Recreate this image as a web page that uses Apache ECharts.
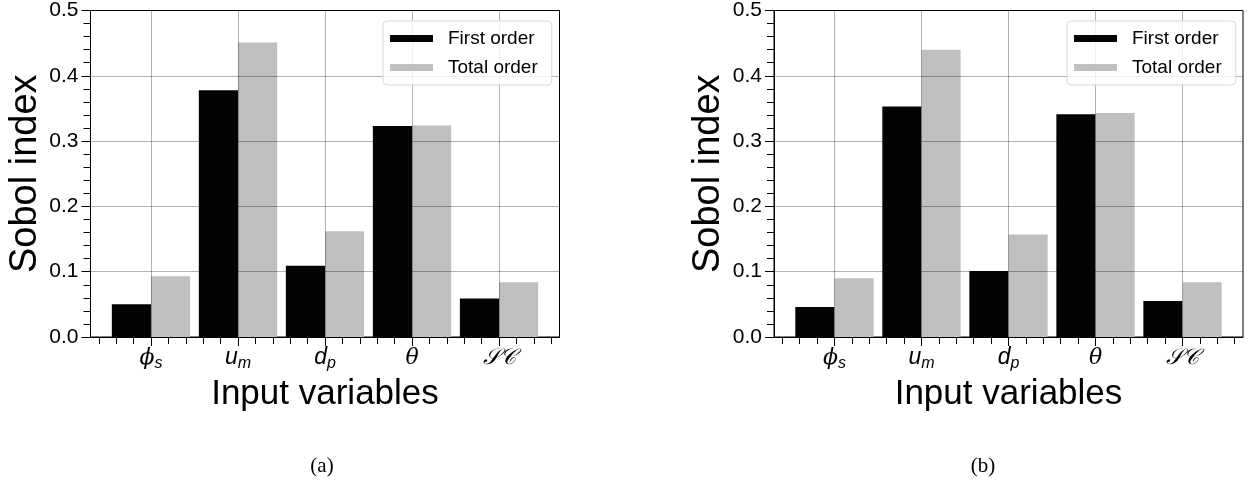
<!DOCTYPE html>
<html>
<head>
<meta charset="utf-8">
<script src="https://cdn.jsdelivr.net/npm/echarts@6/dist/echarts.min.js"></script>
<style>
  html, body { margin: 0; padding: 0; background: #ffffff; }
  #chart { width: 1249px; height: 482px; }
</style>
</head>
<body>
<div id="chart"></div>
<script>
// Input variables (x positions 0..4) and their axis labels (rich text)
const categories = ['phi_s', 'u_m', 'd_p', 'theta', 'SC'];
const categoryLabels = ['{g|ϕ}{s|s}', '{l|u}{s|m}', '{l|d}{s|p}', '{g|θ}', '{c|𝒮𝒞}'];

// Sobol indices, panel (a)
const firstOrderA = [0.050, 0.378, 0.109, 0.323, 0.059];
const totalOrderA = [0.093, 0.451, 0.162, 0.324, 0.084];
// Sobol indices, panel (b)
const firstOrderB = [0.046, 0.353, 0.101, 0.341, 0.055];
const totalOrderB = [0.090, 0.440, 0.157, 0.343, 0.084];

// Tick positions on the x axis
const majorXTicks = [0, 1, 2, 3, 4];
const minorXTicks = [-0.6, -0.4, -0.2, 0.2, 0.4, 0.6, 0.8, 1.2, 1.4, 1.6, 1.8,
                     2.2, 2.4, 2.6, 2.8, 3.2, 3.4, 3.6, 3.8, 4.2, 4.4, 4.6];
const panelLabels = ['(a)', '(b)'];
const seriesNames = ['First order', 'Total order'];

const BAR_W = 0.45;
const X_MIN = -0.695, X_MAX = 4.695;
const SANS = 'Liberation Sans, Arial, sans-serif';
const GRID_COLOR = 'rgba(0,0,0,0.3)';

const chart = echarts.init(document.getElementById('chart'), null, { renderer: 'canvas' });

function barRenderer(shift) {
  return function (params, api) {
    const c = api.value(0);
    const v = api.value(1);
    const tl = api.coord([c + shift - BAR_W / 2, v]);
    const br = api.coord([c + shift + BAR_W / 2, 0]);
    return {
      type: 'rect',
      shape: { x: tl[0], y: tl[1], width: br[0] - tl[0], height: br[1] - tl[1] },
      style: api.style()
    };
  };
}

const rich = {
  g: { fontFamily: 'DejaVu Serif, serif', fontStyle: 'italic', fontSize: 22, lineHeight: 28, color: '#000' },
  l: { fontFamily: SANS, fontStyle: 'italic', fontSize: 23, lineHeight: 28, color: '#000' },
  s: { fontFamily: SANS, fontStyle: 'italic', fontSize: 16, lineHeight: 14, verticalAlign: 'bottom', color: '#000' },
  c: { fontFamily: 'DejaVu Sans, serif', fontStyle: 'italic', fontSize: 22, lineHeight: 28, color: '#000' }
};

const grids = [
  { left: 90.5, top: 10, width: 469, height: 327 },
  { left: 774, top: 10, width: 469, height: 327 }
];

const xAxes = [];
const yAxes = [];
const series = [];
const legends = [];
const titles = [];
const panels = [
  { first: firstOrderA, total: totalOrderA, legendLeft: 383, labelX: 317 },
  { first: firstOrderB, total: totalOrderB, legendLeft: 1067, labelX: 978 }
];

panels.forEach(function (p, g) {
  // major ticks, labels and vertical grid lines
  xAxes.push({
    type: 'value', gridIndex: g, position: 'bottom', min: X_MIN, max: X_MAX, z: 3,
    name: 'Input variables', nameLocation: 'middle', nameGap: 35,
    nameTextStyle: { fontFamily: SANS, fontSize: 35, color: '#000' },
    axisLine: { show: true, onZero: false, lineStyle: { color: '#000', width: 1 } },
    axisTick: { show: true, customValues: majorXTicks, length: 9, lineStyle: { color: '#000', width: 1 } },
    axisLabel: {
      show: true, customValues: majorXTicks, margin: 7,
      formatter: function (v) { return categoryLabels[Math.round(v)]; },
      rich: rich
    },
    splitLine: { show: true, lineStyle: { color: GRID_COLOR, width: 1 } }
  });
  // minor ticks along the same bottom edge
  xAxes.push({
    type: 'value', gridIndex: g, position: 'bottom', min: X_MIN, max: X_MAX, z: 3,
    axisLine: { show: false, onZero: false },
    axisTick: { show: true, customValues: minorXTicks, length: 7, lineStyle: { color: '#000', width: 1 } },
    axisLabel: { show: false },
    splitLine: { show: false }
  });
  yAxes.push({
    type: 'value', gridIndex: g, position: 'left', min: 0, max: 0.5, interval: 0.1, z: 3,
    name: 'Sobol index', nameLocation: 'middle', nameGap: 46, nameRotate: 90,
    nameTextStyle: { fontFamily: SANS, fontSize: 38, color: '#000' },
    axisLine: { show: true, onZero: false, lineStyle: { color: '#000', width: 1 } },
    axisTick: { show: true, length: 9, lineStyle: { color: '#000', width: 1 } },
    minorTick: { show: true, splitNumber: 5, length: 7, lineStyle: { color: '#000', width: 1 } },
    axisLabel: {
      fontFamily: SANS, fontSize: 21, color: '#000', margin: 12,
      formatter: function (v) { return v.toFixed(1); }
    },
    splitLine: { show: true, lineStyle: { color: GRID_COLOR, width: 1 } }
  });
  series.push({
    name: seriesNames[0], type: 'custom', xAxisIndex: 2 * g, yAxisIndex: g,
    itemStyle: { color: '#030303' },
    renderItem: barRenderer(-BAR_W / 2),
    encode: { x: 0, y: 1 },
    data: p.first.map(function (v, i) { return [i, v]; })
  });
  series.push({
    name: seriesNames[1], type: 'custom', xAxisIndex: 2 * g, yAxisIndex: g,
    itemStyle: { color: '#bfbfbf' },
    renderItem: barRenderer(BAR_W / 2),
    encode: { x: 0, y: 1 },
    data: p.total.map(function (v, i) { return [i, v]; })
  });
  legends.push({
    data: seriesNames, orient: 'vertical', left: p.legendLeft, top: 21, z: 10,
    icon: 'rect', itemWidth: 43, itemHeight: 7, itemGap: 10,
    padding: [8, 14, 8, 7],
    backgroundColor: 'rgba(255,255,255,0.8)', borderColor: '#d9d9d9', borderWidth: 1, borderRadius: 4,
    selectedMode: false,
    textStyle: { fontFamily: SANS, fontSize: 19, color: '#000', padding: [0, 0, 0, 10] }
  });
  titles.push({
    text: panelLabels[g], left: p.labelX, top: 451, textAlign: 'center',
    textStyle: { fontFamily: 'Liberation Serif, Times New Roman, serif', fontSize: 21, fontWeight: 'normal', color: '#000' }
  });
});

chart.setOption({
  animation: false,
  backgroundColor: '#ffffff',
  title: titles,
  grid: grids.map(function (gr) {
    return Object.assign({ show: true, borderColor: '#000', borderWidth: 1, backgroundColor: 'transparent' }, gr);
  }),
  legend: legends,
  xAxis: xAxes,
  yAxis: yAxes,
  series: series
});
</script>
</body>
</html>
